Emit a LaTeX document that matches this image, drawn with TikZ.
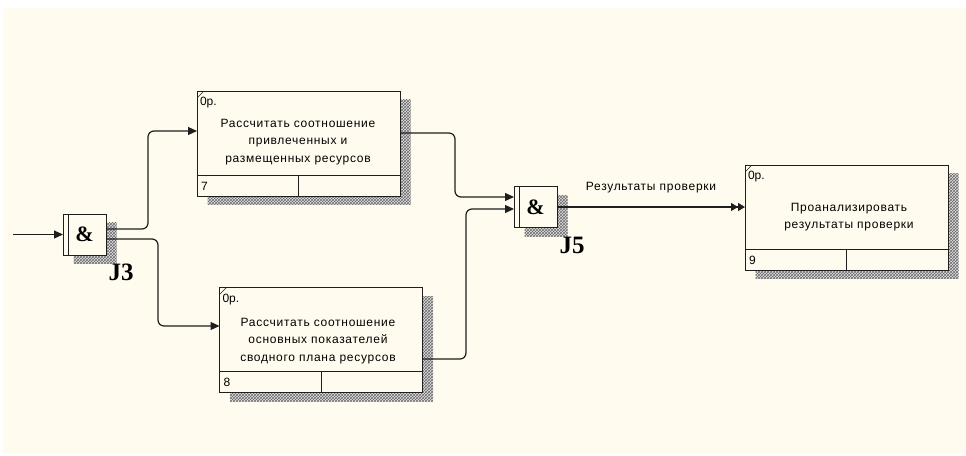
\documentclass[tikz,border=0pt]{standalone}
\usepackage{fontspec}
\setmainfont{Liberation Sans}
\newfontfamily\junctionfont{Liberation Serif}
\usetikzlibrary{arrows.meta,calc,patterns,shadows}
\definecolor{paper}{HTML}{FFFCEF}
\definecolor{hatchgray}{HTML}{6A6A6A}
\definecolor{inkgray}{HTML}{1E1E1E}

\begin{document}
\begin{tikzpicture}[x=1pt,y=-1pt,
    every node/.style={inner sep=0pt,outer sep=0pt},
    hatched/.style={general shadow={shadow xshift=10.5pt,shadow yshift=-8.5pt,
                    fill=gray!22,postaction={pattern=crosshatch,pattern color=hatchgray}}},
    activity/.style={draw=inkgray,line width=1pt,fill=paper,hatched,
                  minimum width=203pt,minimum height=105pt,
                  path picture={
                    \draw[inkgray,line width=1pt]
                      ([yshift=21pt]path picture bounding box.south west)
                      -- ([yshift=21pt]path picture bounding box.south east);
                    \draw[inkgray,line width=1pt]
                      ([yshift=21pt]path picture bounding box.south)
                      -- (path picture bounding box.south);
                    \draw[inkgray,line width=0.6pt]
                      ([yshift=-7pt]path picture bounding box.north west)
                      -- ([xshift=7pt]path picture bounding box.north west);}},
    junction/.style={draw=inkgray,line width=1pt,fill=paper,hatched,
                  minimum width=43pt,minimum height=41pt,
                  font=\junctionfont\bfseries\fontsize{22}{22}\selectfont,
                  path picture={
                    \draw[inkgray,line width=1pt]
                      ([xshift=5.5pt]path picture bounding box.north west)
                      -- ([xshift=5.5pt]path picture bounding box.south west);}},
    acttext/.style={align=center,
                  font=\fontsize{12}{17.5}\selectfont\addfontfeature{LetterSpace=6}},
    small/.style={anchor=west,font=\fontsize{12}{12}\selectfont},
    jname/.style={font=\junctionfont\bfseries\fontsize{25}{25}\selectfont},
    flow/.style={draw=inkgray,line width=1.2pt,rounded corners=6pt,
                  -{Triangle[length=9pt,width=8pt]}},
    doubleflow/.style={draw=inkgray,line width=1.2pt,
                  -{Triangle[length=7pt,width=8pt]Triangle[length=7pt,width=8pt]}},
    flowlabel/.style={font=\fontsize{12}{12}\selectfont\addfontfeature{LetterSpace=6}}
  ]
    \fill[paper] (3,8) rectangle (966,454);
    \useasboundingbox (0,0) rectangle (966,455);

    \node[junction] (j3) at (84.5,234.5) {\&};
    \node[jname] (j3-name) at (121,272) {J3};

    \node[activity] (b7) at (298.5,143.5) {};
    \node[acttext] (b7-text) at (298,142)
      {Рассчитать соотношение\\привлеченных и\\размещенных ресурсов};
    \node[small] (b7-cost) at ($(b7.north west)+(3,12)$) {0р.};
    \node[small] (b7-num) at ($(b7.south west)+(4,-10)$) {7};

    \node[activity] (b8) at (321,340) {};
    \node[acttext] (b8-text) at (318,341)
      {Рассчитать соотношение\\основных показателей\\сводного плана ресурсов};
    \node[small] (b8-cost) at ($(b8.north west)+(3,12)$) {0р.};
    \node[small] (b8-num) at ($(b8.south west)+(4,-10)$) {8};

    \node[junction] (j5) at (535.5,207) {\&};
    \node[jname] (j5-name) at (572,245) {J5};

    \node[activity] (b9) at (846.5,217.5) {};
    \node[acttext] (b9-text) at (849,217)
      {Проанализировать\\результаты проверки};
    \node[small] (b9-cost) at ($(b9.north west)+(3,12)$) {0р.};
    \node[small] (b9-num) at ($(b9.south west)+(4,-10)$) {9};

    \coordinate (start) at (13,234.5);
    \draw[flow] (start) -- (j3.west);
    \draw[flow] ($(j3.east)+(0,-5.5)$) -| (148,131) -- ($(b7.west)+(0,-12.5)$);
    \draw[flow] ($(j3.east)+(0,4.5)$) -| (158,326) -- ($(b8.west)+(0,-14)$);
    \draw[flow] ($(b7.east)+(0,-10.5)$) -| (455,197) -- ($(j5.west)+(0,-10)$);
    \draw[flow] ($(b8.east)+(0,19)$) -| (466,209) -- ($(j5.west)+(0,2)$);
    \draw[doubleflow] (j5.east) -- (j5.east -| b9.west)
      node[flowlabel,midway,above=14pt] (result) {Результаты проверки};
  \end{tikzpicture}
\end{document}
